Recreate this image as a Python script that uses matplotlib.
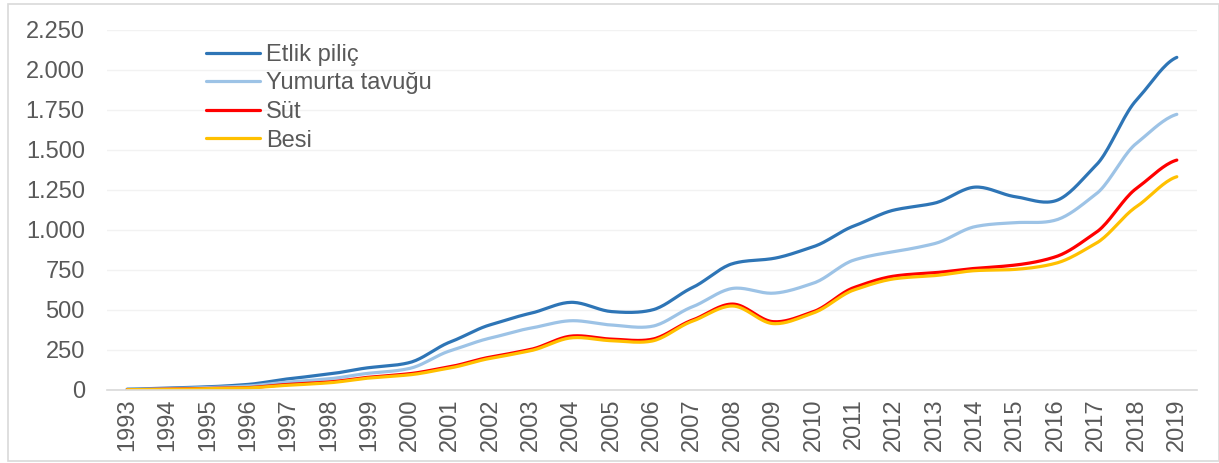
import matplotlib.pyplot as plt
import numpy as np
from matplotlib.patches import Rectangle
from matplotlib.ticker import FuncFormatter

plt.rcParams['font.family'] = ['Liberation Sans', 'DejaVu Sans']

years = [str(y) for y in range(1993, 2020)]

etlik_pilic = [5, 12, 20, 35, 70, 100, 140, 172, 300, 408, 480, 548, 490, 500,
               640, 790, 822, 896, 1025, 1125, 1168, 1268, 1208, 1183, 1405, 1812, 2079]
yumurta_tavugu = [3, 8, 15, 25, 50, 70, 105, 135, 245, 325, 387, 433, 406, 398,
                  520, 635, 605, 668, 812, 865, 915, 1021, 1046, 1062, 1225, 1542, 1723]
sut = [2, 5, 10, 15, 35, 50, 80, 102, 146, 206, 254, 337, 318, 317,
       437, 537, 427, 490, 640, 712, 733, 760, 781, 833, 985, 1260, 1437]
besi = [2, 4, 8, 13, 30, 45, 75, 95, 138, 198, 246, 326, 308, 306,
        430, 525, 415, 482, 625, 695, 715, 746, 754, 792, 917, 1146, 1333]

series = [("Etlik piliç", etlik_pilic, "#2E75B6"),
          ("Yumurta tavuğu", yumurta_tavugu, "#9DC3E6"),
          ("Süt", sut, "#FF0000"),
          ("Besi", besi, "#FFC000")]


def smooth(x, y, n=20):
    # Catmull-Rom style smoothing, similar to spreadsheet "smoothed line"
    x = np.asarray(x, float)
    y = np.asarray(y, float)
    px = np.concatenate([[2 * x[0] - x[1]], x, [2 * x[-1] - x[-2]]])
    py = np.concatenate([[y[0]], y, [y[-1]]])
    xs, ys = [], []
    t = np.linspace(0, 1, n, endpoint=False)
    for i in range(1, len(px) - 2):
        p0, p1, p2, p3 = py[i - 1], py[i], py[i + 1], py[i + 2]
        m1 = (p2 - p0) / 2 * 0.8
        m2 = (p3 - p1) / 2 * 0.8
        h00 = 2 * t**3 - 3 * t**2 + 1
        h10 = t**3 - 2 * t**2 + t
        h01 = -2 * t**3 + 3 * t**2
        h11 = t**3 - t**2
        xs.append(px[i] + t * (px[i + 1] - px[i]))
        ys.append(h00 * p1 + h10 * m1 + h01 * p2 + h11 * m2)
    xs.append([x[-1]])
    ys.append([y[-1]])
    return np.concatenate(xs), np.concatenate(ys)


fig = plt.figure(figsize=(12.19, 4.63), dpi=100)
fig.patches.append(Rectangle((8 / 1219, 2 / 463), 1 - 8 / 1219, 457 / 463,
                             transform=fig.transFigure, fill=False,
                             edgecolor="#D9D9D9", linewidth=1.2))
ax = fig.add_axes([107 / 1219, 1 - 390 / 463, 1090 / 1219, 360 / 463])

xpos = np.arange(len(years))
for name, vals, color in series:
    sx, sy = smooth(xpos, vals)
    ax.plot(sx, sy, color=color, linewidth=2.3, label=name,
            solid_capstyle='round')

ax.set_xlim(-0.5, len(years) - 0.5)
ax.set_ylim(0, 2250)
ax.set_yticks(np.arange(0, 2251, 250))
ax.yaxis.set_major_formatter(FuncFormatter(lambda v, p: f"{int(v):,}".replace(",", ".")))
ax.set_xticks(xpos)
ax.set_xticklabels(years, rotation=90)

ax.grid(axis='y', color="#F2F2F2", linewidth=1)
ax.set_axisbelow(True)
for s in ['top', 'right', 'left']:
    ax.spines[s].set_visible(False)
ax.spines['bottom'].set_color("#D9D9D9")
ax.spines['bottom'].set_linewidth(1.2)
ax.tick_params(axis='both', length=0, labelsize=17, labelcolor="#595959")
ax.tick_params(axis='y', pad=16)
ax.tick_params(axis='x', pad=6)

leg = ax.legend(loc='upper left', bbox_to_anchor=(0.082, 0.988), frameon=False,
                fontsize=17, handlelength=2.3, handletextpad=0.25,
                labelspacing=0.28, borderaxespad=0)
for t in leg.get_texts():
    t.set_color("#595959")

fig.savefig("out.png", dpi=100)
